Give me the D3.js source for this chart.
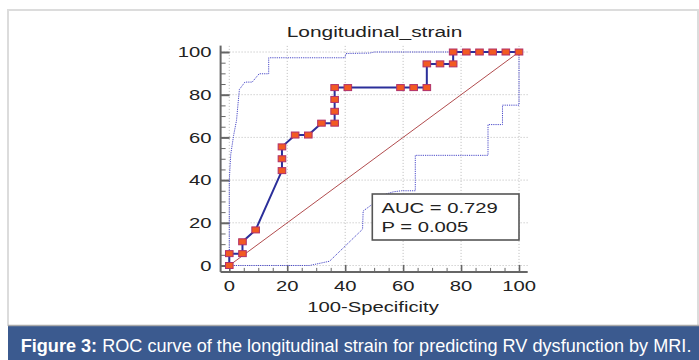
<!DOCTYPE html>
<html>
<head>
<meta charset="utf-8">
<script src="https://cdn.jsdelivr.net/npm/d3@7"></script>
<style>
  body { margin: 0; background: #fff; }
  svg text { font-family: "Liberation Sans", Arial, sans-serif; }
</style>
</head>
<body>
<div id="chart"></div>
<script>
// ROC curve points (100-Specificity, Sensitivity)
const rocX = [0, 0, 4.55, 4.55, 9.09, 18.18, 18.18, 18.18, 22.73, 27.27, 31.82, 36.36, 36.36, 36.36, 36.36,
  40.91, 59.09, 63.64, 68.18, 68.18, 72.73, 77.27, 77.27, 81.82, 86.36, 90.91, 95.45, 100];
const rocY = [0, 5.56, 5.56, 11.11, 16.67, 44.44, 50, 55.56, 61.11, 61.11, 66.67, 66.67, 72.22, 77.78, 83.33,
  83.33, 83.33, 83.33, 83.33, 94.44, 94.44, 94.44, 100, 100, 100, 100, 100, 100];

// upper and lower confidence bounds (dotted)
const upperX = [0, 0, 0.5, 1.5, 2.5, 3.1, 3.5, 5.4, 7.9, 10.3, 13.6, 13.6, 39.9, 40.3, 48.5, 50, 100];
const upperY = [0, 40, 52, 61, 68, 77, 82.5, 85.9, 85.9, 89.8, 89.8, 97.3, 97.3, 99.3, 99.5, 100, 100];
const lowerX = [0, 27.7, 34.6, 46, 46.2, 49, 53, 56.6, 59.4, 64.2, 64.2, 89.3, 89.3, 94.3, 94.3, 100, 100];
const lowerY = [0, 0, 2, 17, 25.5, 28.3, 33, 34.5, 35, 35, 51.6, 51.6, 66, 66, 75.1, 75.1, 100];

const majorTicks = [0, 20, 40, 60, 80, 100];
const minorTicks = d3.range(0, 101, 5);
const titleText = 'Longitudinal_strain';
const xLabel = '100-Specificity';
const statLines = ['AUC = 0.729', 'P = 0.005'];

const W = 699, H = 360;
const SX = 1.35; // the picture is stretched sideways

const svg = d3.select('#chart').append('svg')
  .attr('width', W)
  .attr('height', H);

// page frame
svg.append('path')
  .attr('d', `M8,326 V10 H698 V326`)
  .attr('fill', 'none')
  .attr('stroke', '#dcdcdc')
  .attr('stroke-width', 2);

const x = d3.scaleLinear().domain([-3, 103]).range([220.6, 527.7]);
const y = d3.scaleLinear().domain([-3, 103]).range([271.9, 45.6]);

function sText(g, tx, ty, str, size, anchor) {
  return g.append('text')
    .attr('transform', `translate(${tx},${ty}) scale(${SX},1)`)
    .attr('text-anchor', anchor || 'start')
    .attr('font-size', size)
    .attr('fill', '#222')
    .text(str);
}

// grid
const grid = svg.append('g').attr('stroke', '#aaa').attr('stroke-width', 0.8).attr('stroke-dasharray', '1,2');
grid.selectAll('.gx').data(majorTicks).join('line')
  .attr('x1', d => x(d)).attr('x2', d => x(d))
  .attr('y1', y(-3)).attr('y2', y(103));
grid.selectAll('.gy').data(majorTicks).join('line')
  .attr('y1', d => y(d)).attr('y2', d => y(d))
  .attr('x1', x(-3)).attr('x2', x(103));

// axes (ticks pointing inward)
const axisClr = '#666';
const xAxisG = svg.append('g').attr('transform', `translate(0,${y(-3)})`);
xAxisG.call(d3.axisTop(x).tickValues(minorTicks).tickSize(4).tickFormat(''));
xAxisG.call(g => g.selectAll('.tick line').filter(d => d % 20 === 0).attr('y2', -7).attr('stroke-width', 1.6));
xAxisG.select('.domain').attr('d', `M${x(-3)},0H${x(103)}`);
xAxisG.selectAll('path,line').attr('stroke', axisClr);
xAxisG.select('.domain').attr('stroke-width', 2);

const yAxisG = svg.append('g').attr('transform', `translate(${x(-3)},0)`);
yAxisG.call(d3.axisRight(y).tickValues(minorTicks).tickSize(5).tickFormat(''));
yAxisG.call(g => g.selectAll('.tick line').filter(d => d % 20 === 0).attr('x2', 9).attr('stroke-width', 2));
yAxisG.select('.domain').attr('d', `M0,${y(-3)}V${y(103)}`);
yAxisG.selectAll('path,line').attr('stroke', axisClr);
yAxisG.select('.domain').attr('stroke-width', 2);

// tick labels
const labels = svg.append('g');
majorTicks.forEach(t => {
  sText(labels, 211.5, y(t) + 5.3, t, 15, 'end');
  sText(labels, x(t), 291, t, 15, 'middle');
});
sText(labels, 373, 312, xLabel, 15, 'middle');
sText(labels, 374.5, 36.5, titleText, 15.5, 'middle');

// diagonal reference line
svg.append('line')
  .attr('x1', x(0)).attr('y1', y(0))
  .attr('x2', x(100)).attr('y2', y(100))
  .attr('stroke', '#a8383a')
  .attr('stroke-width', 0.9);

// confidence bounds
const line = d3.line().x(d => x(d[0])).y(d => y(d[1]));
[[upperX, upperY], [lowerX, lowerY]].forEach(([xs, ys]) => {
  svg.append('path')
    .attr('d', line(xs.map((v, i) => [v, ys[i]])))
    .attr('fill', 'none')
    .attr('stroke', '#4a4ac8')
    .attr('stroke-width', 1)
    .attr('stroke-dasharray', '1.2,1');
});

// ROC curve
const roc = rocX.map((v, i) => [v, rocY[i]]);
svg.append('path')
  .attr('d', line(roc))
  .attr('fill', 'none')
  .attr('stroke', '#2b2f9a')
  .attr('stroke-width', 2);

svg.selectAll('.pt').data(roc).join('rect')
  .attr('x', d => x(d[0]) - 3.8)
  .attr('y', d => y(d[1]) - 3)
  .attr('width', 7.6)
  .attr('height', 6)
  .attr('fill', '#f25a22')
  .attr('stroke', '#b0306a')
  .attr('stroke-width', 1);

// stats box
svg.append('rect')
  .attr('x', 372.3).attr('y', 194)
  .attr('width', 146.7).attr('height', 46)
  .attr('fill', '#fff')
  .attr('stroke', '#555')
  .attr('stroke-width', 1.6);
statLines.forEach((s, i) => sText(svg, 381.5, 213.3 + i * 18.4, s, 15, 'start'));

// caption bar
svg.append('rect')
  .attr('x', 8).attr('y', 326)
  .attr('width', W - 8).attr('height', H - 326)
  .attr('fill', '#3b5a8f');
svg.append('line')
  .attr('x1', 8).attr('x2', W)
  .attr('y1', 325.5).attr('y2', 325.5)
  .attr('stroke', '#a9a9a9')
  .attr('stroke-width', 1.5);

const cap = svg.append('text')
  .attr('x', 0).attr('y', 0)
  .attr('font-size', 18)
  .attr('fill', '#fff');
cap.append('tspan').attr('font-weight', 'bold').text('Figure 3:');
cap.append('tspan').text(' ROC curve of the longitudinal strain for predicting RV dysfunction by MRI.');
const capLen = cap.node().getComputedTextLength();
cap.attr('transform', `translate(20.7,351.5) scale(${671 / capLen},1)`);
</script>
</body>
</html>
